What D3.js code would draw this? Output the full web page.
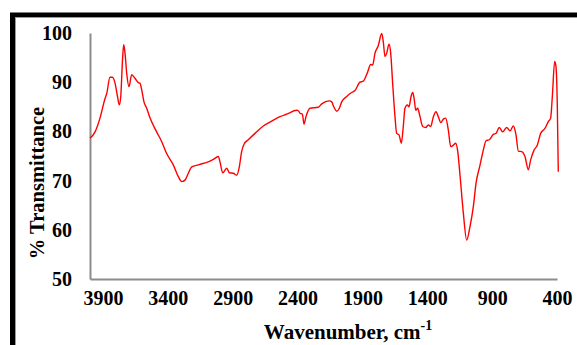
<!DOCTYPE html>
<html>
<head>
<meta charset="utf-8">
<script src="https://cdn.jsdelivr.net/npm/d3@7"></script>
<style>
  body { margin: 0; background: #fff; }
  text { font-family: "Liberation Serif", "Times New Roman", serif; font-weight: bold; fill: #000; }
</style>
</head>
<body>
<div class="result"></div>
<script>
// Width and height
const w = 577;
const h = 345;

// FTIR spectrum
const wavenumber = [4000, 3961, 3923, 3884, 3871, 3846, 3828, 3807, 3790, 3774, 3763, 3748, 3740, 3730, 3717,
  3699, 3679, 3653, 3628, 3615, 3601, 3584, 3563, 3537, 3486, 3447, 3409, 3358, 3319, 3293, 3268, 3242,
  3216, 3165, 3113, 3088, 3049, 3011, 2998, 2977, 2946, 2926, 2895, 2869, 2849, 2831, 2813, 2780, 2728,
  2664, 2599, 2535, 2484, 2407, 2394, 2381, 2363, 2350, 2335, 2304, 2240, 2214, 2155, 2137, 2119, 2098,
  2078, 2060, 2021, 1983, 1957, 1919, 1893, 1862, 1836, 1821, 1803, 1778, 1751, 1739, 1726, 1713, 1695,
  1682, 1667, 1649, 1636, 1618, 1600, 1585, 1572, 1554, 1541, 1525, 1512, 1500, 1489, 1474, 1456, 1435,
  1412, 1392, 1374, 1353, 1333, 1315, 1296, 1276, 1258, 1238, 1219, 1199, 1181, 1165, 1148, 1122, 1096,
  1071, 1045, 1024, 993, 968, 947, 922, 891, 870, 845, 819, 788, 762, 737, 716, 698, 672, 647, 621, 603,
  577, 552, 526, 493, 467, 449, 436, 418, 408, 398, 390];
const transmittance = [78.6, 79.9, 82.7, 86.7, 87.7, 91.0, 91.0, 89.8, 87.4, 85.4, 87.1, 95.2, 97.6, 95.9, 91.8,
  89.1, 91.5, 90.8, 89.9, 89.8, 88.4, 86.0, 84.7, 82.7, 79.9, 77.9, 75.5, 73.2, 70.8, 69.8, 70.1, 71.5,
  72.8, 73.2, 73.6, 73.8, 74.3, 74.9, 73.8, 71.6, 72.5, 71.6, 71.5, 71.1, 72.8, 75.9, 77.4, 78.3, 79.6,
  81.1, 82.1, 83.0, 83.5, 84.3, 84.2, 83.7, 83.5, 81.5, 83.0, 84.7, 84.9, 85.6, 86.2, 86.0, 84.9, 84.1,
  84.7, 86.0, 87.1, 87.9, 88.3, 90.0, 90.2, 91.9, 93.6, 93.5, 95.9, 97.4, 99.9, 98.2, 95.2, 95.9, 97.7,
  95.9, 89.8, 83.0, 79.6, 79.3, 77.6, 81.0, 84.7, 85.4, 85.0, 87.1, 87.9, 86.4, 84.3, 84.7, 83.0, 81.0,
  80.8, 81.3, 81.0, 83.0, 84.0, 83.0, 81.8, 82.5, 82.7, 80.3, 76.9, 77.2, 77.6, 75.9, 71.2, 63.4, 57.9,
  60.6, 64.7, 69.5, 73.2, 76.2, 78.1, 78.3, 79.4, 79.6, 80.8, 79.9, 80.8, 80.1, 81.1, 79.3, 76.0, 75.9, 74.9, 72.2, 74.2,
  76.2, 77.2, 79.6, 80.6, 82.0, 82.7, 87.1, 94.2, 93.2, 85.7, 71.8];

const xTicks = [3900, 3400, 2900, 2400, 1900, 1400, 900, 400];
const yTicks = [50, 60, 70, 80, 90, 100];

const dataset = wavenumber.map((d, i) => [d, transmittance[i]]);

// Scales
const xScale = d3.scaleLinear().domain([4000, 400]).range([90, 557]);
const yScale = d3.scaleLinear().domain([50, 100]).range([279, 33]);

const svg = d3.select('.result')
  .append('svg')
  .attr('width', w)
  .attr('height', h);

// Frame (runs off the right and bottom edge like the original)
svg.append('rect')
  .attr('x', 12.5).attr('y', 15)
  .attr('width', 600).attr('height', 400)
  .attr('fill', 'none')
  .attr('stroke', '#000')
  .attr('stroke-width', 5);
svg.append('rect')
  .attr('x', 15.5).attr('y', 17.5)
  .attr('width', 600).attr('height', 400)
  .attr('fill', 'none')
  .attr('stroke', '#999')
  .attr('stroke-width', 1);

// X axis
const xAxis = d3.axisBottom(xScale).tickValues(xTicks).tickFormat(d3.format('d')).tickSize(0).tickPadding(12);
const gx = svg.append('g')
  .attr('transform', 'translate(0,' + yScale(50) + ')')
  .call(xAxis);
gx.select('.domain').attr('stroke', '#8c8c8c').attr('stroke-width', 2);
gx.selectAll('text').style('font-size', '20px').attr('fill', '#000');

// Y axis
const yAxis = d3.axisLeft(yScale).tickValues(yTicks).tickFormat(d3.format('d')).tickSize(0).tickPadding(18);
const gy = svg.append('g')
  .attr('transform', 'translate(' + xScale(4000) + ',0)')
  .call(yAxis);
gy.select('.domain').attr('stroke', '#8c8c8c').attr('stroke-width', 2);
gy.selectAll('text').style('font-size', '20px').attr('fill', '#000');

// Spectrum
const line = d3.line()
  .x(d => xScale(d[0]))
  .y(d => yScale(d[1]))
  .curve(d3.curveMonotoneX);
svg.append('path')
  .datum(dataset)
  .attr('fill', 'none')
  .attr('stroke', '#ff0000')
  .attr('stroke-width', 1.4)
  .attr('d', line);

// Axis titles
svg.append('text')
  .attr('transform', 'translate(44,183) rotate(-90)')
  .attr('text-anchor', 'middle')
  .style('font-size', '20.5px')
  .text('% Transmittance');

const xt = svg.append('text')
  .attr('x', 348).attr('y', 339)
  .attr('text-anchor', 'middle')
  .style('font-size', '21px');
xt.append('tspan').text('Wavenumber, cm');
xt.append('tspan').attr('dy', -9).style('font-size', '14px').text('-1');
</script>
</body>
</html>
